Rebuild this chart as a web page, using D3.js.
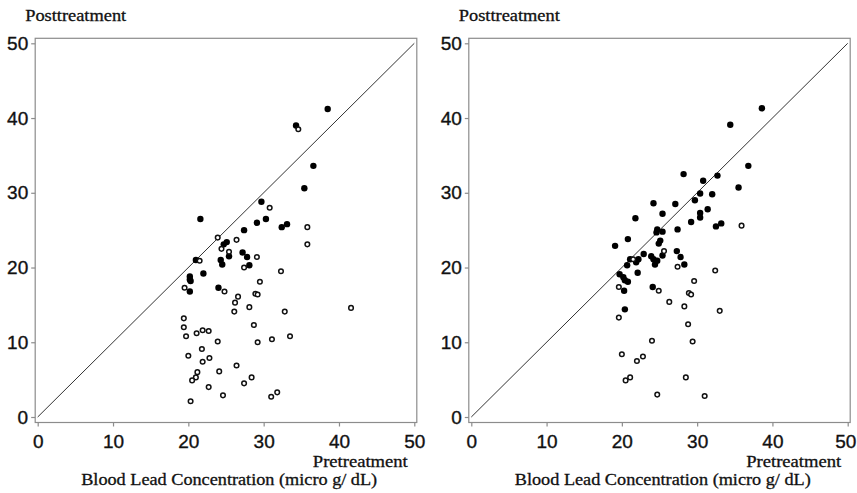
<!DOCTYPE html>
<html>
<head>
<meta charset="utf-8">
<script src="https://cdn.jsdelivr.net/npm/d3@7/dist/d3.min.js"></script>
<style>
html,body{margin:0;padding:0;background:#fff;}
svg{display:block;}
</style>
</head>
<body>
<svg id="chart" width="857" height="493"></svg>
<script>
// ---- data: [pretreatment, posttreatment] ----
const ticks = [0, 10, 20, 30, 40, 50];
const yLabel = "Posttreatment";
const xLabel = "Pretreatment";
const unitLabel = "Blood Lead Concentration (micro g/ dL)";

const leftFilled = [[38.5,41.2],[34.3,39.0],[36.6,33.6],[35.4,30.6],[29.7,28.8],[21.6,26.5],[30.3,26.5],[29.1,26.0],[32.4,25.4],[33.1,25.8],[27.4,25.0],[25.1,23.4],[24.7,23.1],[27.2,22.0],[25.4,21.5],[27.8,21.4],[21.0,21.0],[24.3,21.0],[24.5,20.4],[28.1,20.3],[22.0,19.2],[20.2,18.8],[20.2,18.4],[20.3,18.2],[20.2,16.8],[24.0,17.3]];
const leftOpen = [[34.6,38.5],[30.8,28.0],[35.8,25.4],[35.8,23.1],[23.9,24.0],[26.4,23.7],[24.4,22.5],[25.4,22.1],[29.1,21.4],[21.5,20.9],[27.4,20.0],[32.3,19.5],[29.5,18.1],[19.5,17.3],[24.8,16.8],[26.6,16.1],[28.9,16.5],[29.2,16.4],[26.2,15.3],[28.1,14.7],[32.8,14.1],[26.1,14.1],[41.6,14.6],[19.4,13.2],[19.4,12.0],[19.7,10.8],[21.1,11.2],[21.9,11.6],[22.7,11.5],[23.9,10.1],[28.7,12.3],[29.2,10.0],[31.1,10.4],[33.5,10.8],[20.0,8.2],[21.8,9.1],[21.9,7.4],[22.8,7.9],[26.4,6.9],[24.1,6.1],[21.2,6.0],[21.0,5.3],[20.5,4.9],[28.4,5.3],[27.4,4.5],[22.7,4.0],[24.6,2.9],[20.3,2.1],[31.0,2.7],[31.8,3.3]];
const rightFilled = [[38.6,41.3],[34.4,39.1],[36.8,33.6],[35.5,30.7],[28.2,32.5],[30.8,31.6],[32.7,32.3],[30.4,29.9],[32.0,29.8],[29.7,29.0],[24.2,28.6],[27.1,28.5],[31.4,27.8],[30.4,27.3],[30.4,26.7],[25.4,27.2],[21.8,26.6],[29.2,26.1],[32.5,25.5],[33.2,25.9],[27.4,25.1],[24.7,25.1],[25.4,24.8],[24.6,24.7],[20.8,23.8],[19.1,22.9],[25.1,23.6],[24.9,23.2],[27.3,22.2],[27.8,21.4],[22.9,21.8],[23.9,21.5],[24.2,21.1],[24.7,20.9],[24.4,20.4],[25.4,21.6],[22.2,21.1],[21.9,20.7],[21.1,21.1],[20.7,20.3],[28.3,20.4],[22.1,19.3],[19.7,19.1],[20.2,18.7],[20.4,18.3],[20.8,18.1],[20.3,16.9],[24.1,17.4],[20.4,14.4]];
const rightOpen = [[35.9,25.6],[25.6,22.2],[21.5,21.1],[27.4,20.1],[32.4,19.6],[29.6,18.2],[19.6,17.4],[24.9,16.9],[28.9,16.6],[29.2,16.4],[26.3,15.4],[28.3,14.8],[33.0,14.2],[19.6,13.3],[28.8,12.4],[29.4,10.1],[24.0,10.2],[20.0,8.4],[22.8,8.1],[22.0,7.5],[21.1,5.3],[20.5,4.9],[28.5,5.3],[24.7,3.0],[31.0,2.8]];

const panels = [
  {x0: 37.7, x1: 414.3, filled: leftFilled, open: leftOpen},
  {x0: 471.3, x1: 847.7, filled: rightFilled, open: rightOpen}
];

const svg = d3.select("#chart");
const serif = "'Liberation Serif','DejaVu Serif',serif";
const sans = "'Liberation Sans',Arial,sans-serif";

panels.forEach((p, pi) => {
  const x = d3.scaleLinear().domain([0, 50]).range([p.x0, p.x1]);
  const y = d3.scaleLinear().domain([0, 50]).range([417, 43.3]);
  const g = svg.append("g");

  // frame
  g.append("rect")
    .attr("x", x(0) - 2.5).attr("y", y(50) - 5)
    .attr("width", x(50) - x(0) + 5).attr("height", y(0) - y(50) + 10.5)
    .attr("fill", "none").attr("stroke", "#8c8c8c").attr("stroke-width", 1.2);

  // x axis
  const xa = g.append("g").attr("transform", `translate(0,${y(0) + 5.5})`)
    .call(d3.axisBottom(x).tickValues(ticks).tickSize(4).tickPadding(8).tickFormat(d3.format("d")));
  xa.select(".domain").remove();
  xa.selectAll("line").attr("stroke", "#8c8c8c").attr("stroke-width", 1.2);
  xa.selectAll("text").attr("font-family", sans).attr("font-size", 19).attr("fill", "#111")
    .attr("stroke", "#111").attr("stroke-width", 0.35);
  if (pi === 1) {
    xa.selectAll("text").filter(d => d === 50).attr("dx", -2.5);
  }

  // y axis
  const ya = g.append("g").attr("transform", `translate(${x(0) - 2.5},0)`)
    .call(d3.axisLeft(y).tickValues(ticks).tickSize(4).tickPadding(3).tickFormat(d3.format("d")));
  ya.select(".domain").remove();
  ya.selectAll("line").attr("stroke", "#8c8c8c").attr("stroke-width", 1.2);
  ya.selectAll("text").attr("font-family", sans).attr("font-size", 19).attr("fill", "#111")
    .attr("stroke", "#111").attr("stroke-width", 0.35);

  // identity line
  g.append("line")
    .attr("x1", x(0)).attr("y1", y(0)).attr("x2", x(50)).attr("y2", y(50))
    .attr("stroke", "#333").attr("stroke-width", 1);

  // points
  g.selectAll(".f").data(p.filled).enter().append("circle")
    .attr("cx", d => x(d[0])).attr("cy", d => y(d[1])).attr("r", 3.2)
    .attr("fill", "#000");
  g.selectAll(".o").data(p.open).enter().append("circle")
    .attr("cx", d => x(d[0])).attr("cy", d => y(d[1])).attr("r", 2.3)
    .attr("fill", "#fff").attr("stroke", "#111").attr("stroke-width", 1.5);

  // labels
  const lab = (sel) => sel.attr("font-family", serif).attr("font-size", 16).attr("fill", "#111")
    .attr("stroke", "#111").attr("stroke-width", 0.3).attr("lengthAdjust", "spacingAndGlyphs");
  g.append("text").attr("x", x(0) - 12.5).attr("y", 20.7)
    .call(lab).attr("textLength", 101).text(yLabel);
  g.append("text").attr("x", x(50) - 6.5).attr("y", 466.5).attr("text-anchor", "end")
    .call(lab).attr("textLength", 95).text(xLabel);
  g.append("text").attr("x", x(0) + 43.5).attr("y", 485)
    .call(lab).attr("textLength", 296).text(unitLabel);
});
</script>
</body>
</html>
